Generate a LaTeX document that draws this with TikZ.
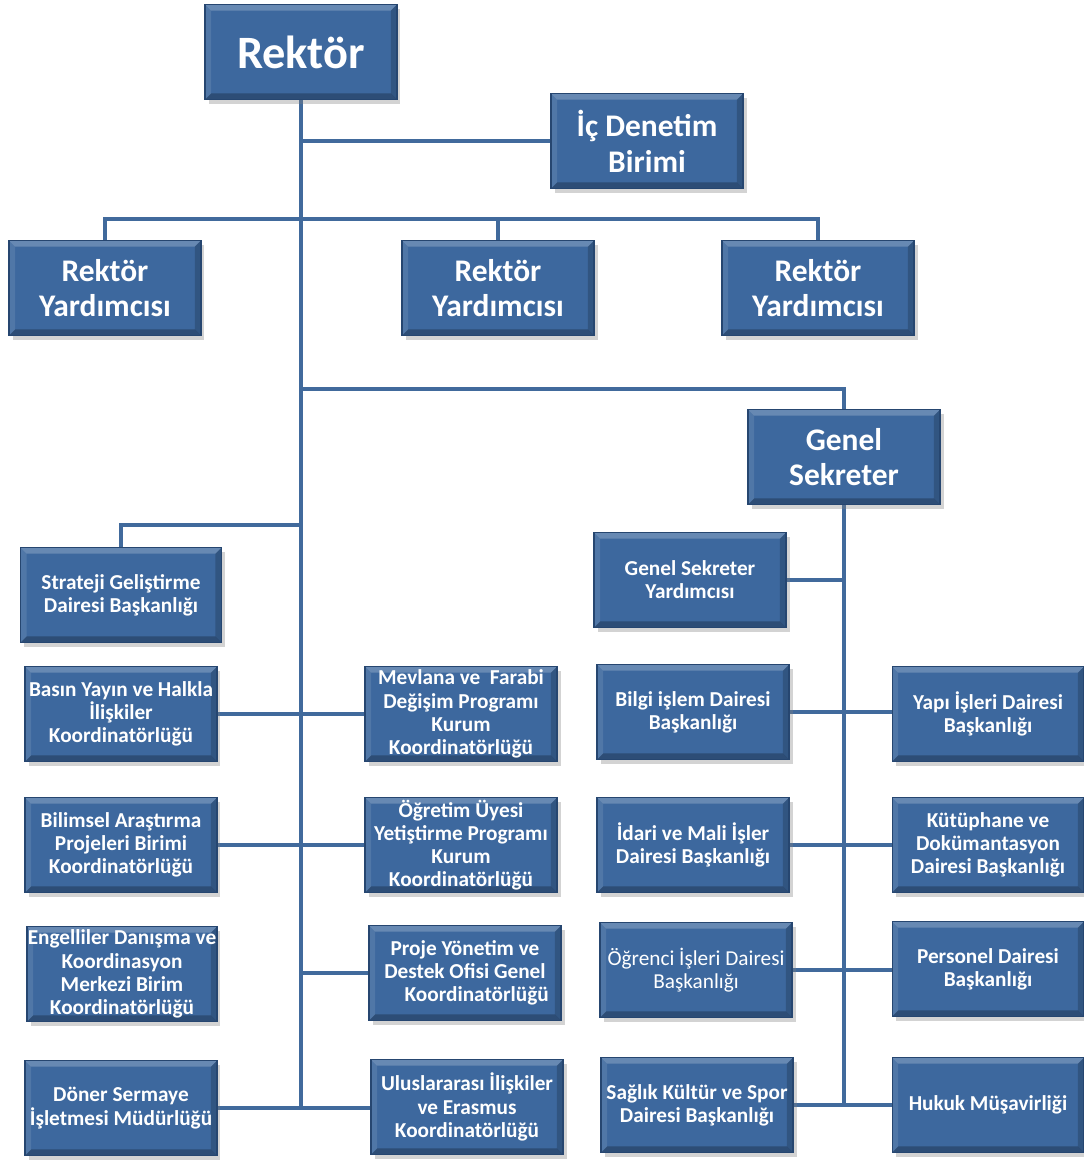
\documentclass[tikz,border=0pt]{standalone}
\usepackage{fontspec}
\setmainfont{Carlito}
\usetikzlibrary{shadows,backgrounds}
\definecolor{kutumavi}{RGB}{61,104,158}
\definecolor{kenar}{RGB}{38,70,112}
\definecolor{cizgi}{RGB}{65,106,156}
\newcommand{\buyuk}{\fontsize{26.4}{30}\selectfont\bfseries}
\newcommand{\orta}{\fontsize{17.9}{20.4}\selectfont\bfseries}
\newcommand{\kucuk}{\fontsize{12.1}{13.2}\selectfont\bfseries}
\begin{document}
\begin{tikzpicture}[x=0.02cm,y=-0.02cm,line join=miter,
		kutu/.style={draw=kenar,line width=0.6pt,fill=kutumavi,text=white,align=center,
			inner sep=0pt,minimum width=3.84cm,minimum height=1.9cm,font=\kucuk,
			drop shadow={opacity=.35,shadow xshift=2pt,shadow yshift=-2.5pt},
			path picture={
				\fill[white,opacity=.22] (path picture bounding box.north west) -- (path picture bounding box.north east)
					-- ([xshift=-3.5pt,yshift=-3.5pt]path picture bounding box.north east) -- ([xshift=3.5pt,yshift=-3.5pt]path picture bounding box.north west) -- cycle;
				\fill[white,opacity=.10] (path picture bounding box.north west) -- ([xshift=3.5pt,yshift=-3.5pt]path picture bounding box.north west)
					-- ([xshift=3.5pt,yshift=3.5pt]path picture bounding box.south west) -- (path picture bounding box.south west) -- cycle;
				\fill[black,opacity=.25] (path picture bounding box.south west) -- (path picture bounding box.south east)
					-- ([xshift=-3.5pt,yshift=3.5pt]path picture bounding box.south east) -- ([xshift=3.5pt,yshift=3.5pt]path picture bounding box.south west) -- cycle;
				\fill[black,opacity=.18] (path picture bounding box.north east) -- (path picture bounding box.south east)
					-- ([xshift=-3.5pt,yshift=3.5pt]path picture bounding box.south east) -- ([xshift=-3.5pt,yshift=-3.5pt]path picture bounding box.north east) -- cycle;
			}},
		ciz/.style={draw=cizgi,line width=2.8pt}]
	\useasboundingbox (0,0) rectangle (1083,1160);
	
	% ust kisim
	\node[kutu,font=\buyuk] (rektor) at (301,52) {Rektör};
	\node[kutu,font=\orta] (icdenetim) at (647,141) {İç Denetim\\Birimi};
	\node[kutu,font=\orta] (ry1) at (105,288) {Rektör\\Yardımcısı};
	\node[kutu,font=\orta] (ry2) at (498,288) {Rektör\\Yardımcısı};
	\node[kutu,font=\orta] (ry3) at (818,288) {Rektör\\Yardımcısı};
	\node[kutu,font=\orta] (gs) at (844,457) {Genel\\Sekreter};
	
	% sol sutun
	\node[kutu,minimum width=4.02cm] (strateji) at (121,595) {Strateji Geliştirme\\Dairesi Başkanlığı};
	\node[kutu] (basin) at (121,714) {Basın Yayın ve Halkla\\İlişkiler\\Koordinatörlüğü};
	\node[kutu] (bilimsel) at (121,845) {Bilimsel Araştırma\\Projeleri Birimi\\Koordinatörlüğü};
	\node[kutu,minimum width=3.8cm] (engelli) at (122,974) {Engelliler Danışma ve\\Koordinasyon\\Merkezi Birim\\Koordinatörlüğü};
	\node[kutu] (doner) at (121,1108) {Döner Sermaye\\İşletmesi Müdürlüğü};
	
	% orta sutun
	\node[kutu] (mevlana) at (461,714) {Mevlana ve~ Farabi\\Değişim Programı\\Kurum\\Koordinatörlüğü};
	\node[kutu] (ogretim) at (461,845) {Öğretim Üyesi\\Yetiştirme Programı\\Kurum\\Koordinatörlüğü};
	\node[kutu] (proje) at (465,973) {Proje Yönetim ve\\Destek Ofisi Genel\\\hspace*{1.1em}Koordinatörlüğü};
	\node[kutu] (uluslar) at (467,1107) {Uluslararası İlişkiler\\ve Erasmus\\Koordinatörlüğü};
	
	% genel sekreterlik
	\node[kutu] (gsy) at (690,580) {Genel Sekreter\\Yardımcısı};
	\node[kutu] (bilgi) at (693,712) {Bilgi işlem Dairesi\\Başkanlığı};
	\node[kutu] (idari) at (693,845) {İdari ve Mali İşler\\Dairesi Başkanlığı};
	\node[kutu,font=\fontsize{12.1}{13.2}\selectfont] (ogrenci) at (696,970) {Öğrenci İşleri Dairesi\\Başkanlığı};
	\node[kutu] (saglik) at (697,1105) {Sağlık Kültür ve Spor\\Dairesi Başkanlığı};
	\node[kutu] (yapi) at (988,714) {Yapı İşleri Dairesi\\Başkanlığı};
	\node[kutu] (kutuphane) at (988,845) {Kütüphane ve\\Dokümantasyon\\Dairesi Başkanlığı};
	\node[kutu] (personel) at (988,969) {Personel Dairesi\\Başkanlığı};
	\node[kutu] (hukuk) at (988,1105) {Hukuk Müşavirliği};
	
	\coordinate (ryhat) at (301,219);
	\coordinate (gshat) at (301,389);
	\coordinate (strhat) at (301,525);
	
	% baglantilar
	\begin{scope}[on background layer]
		\draw[ciz] (rektor.south) -- (rektor.south |- doner);
		\draw[ciz] (rektor.south |- icdenetim) -- (icdenetim.west);
		\draw[ciz] (ry1.north) |- (ry3.north |- ryhat) -- (ry3.north);
		\draw[ciz] (ry2.north) -- (ry2.north |- ryhat);
		\draw[ciz] (gshat) -| (gs.north);
		\draw[ciz] (strhat) -| (strateji.north);
		\draw[ciz] (basin.east) -- (mevlana.west);
		\draw[ciz] (bilimsel.east) -- (ogretim.west);
		\draw[ciz] (rektor.south |- proje) -- (proje.west);
		\draw[ciz] (doner.east) -- (doner.east -| uluslar.west);
		
		\draw[ciz] (gs.south) -- (gs.south |- saglik);
		\draw[ciz] (gsy.east) -- (gsy.east -| gs.south);
		\draw[ciz] (bilgi.east) -- (bilgi.east -| yapi.west);
		\draw[ciz] (idari.east) -- (kutuphane.west);
		\draw[ciz] (ogrenci.east) -- (ogrenci.east -| personel.west);
		\draw[ciz] (saglik.east) -- (hukuk.west);
	\end{scope}
\end{tikzpicture}
\end{document}
